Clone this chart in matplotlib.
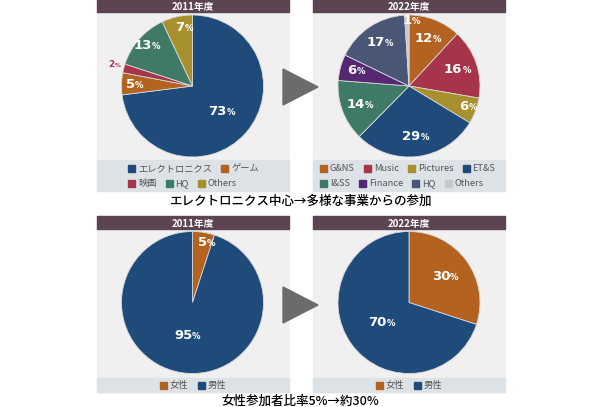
import matplotlib.pyplot as plt
from matplotlib.patches import Rectangle, Polygon
import numpy as np

plt.rcParams['font.family'] = ['Noto Sans CJK JP', 'DejaVu Sans']

# --- data ---
seg_2011_labels = ['エレクトロニクス', 'ゲーム', '映画', 'HQ', 'Others']
seg_2011_values = [73, 5, 2, 13, 7]

seg_2022_labels = ['G&NS', 'Music', 'Pictures', 'ET&S', 'I&SS', 'Finance', 'HQ', 'Others']
seg_2022_values = [12, 16, 6, 29, 14, 6, 17, 1]

gender_labels = ['女性', '男性']
gender_2011 = [5, 95]
gender_2022 = [30, 70]

caption_top = 'エレクトロニクス中心→多様な事業からの参加'
caption_bottom = '女性参加者比率5%→約30%'

# --- colours ---
NAVY = '#1f4b7a'
ORANGE = '#b3621f'
CRIMSON = '#a6344a'
GREEN = '#3e7a66'
GOLD = '#a8902e'
PURPLE = '#56286f'
SLATE = '#4a5676'
LGRAY = '#c8c8c8'

colors_2011 = [NAVY, ORANGE, CRIMSON, GREEN, GOLD]
colors_2022 = [ORANGE, CRIMSON, GOLD, NAVY, GREEN, PURPLE, SLATE, LGRAY]
colors_gender = [ORANGE, NAVY]

W, H = 600, 407
fig = plt.figure(figsize=(W / 100, H / 100), dpi=100)
renderer = fig.canvas.get_renderer()

# overlay in pixel coordinates for panels, bars, arrows, captions
bg = fig.add_axes([0, 0, 1, 1])
bg.set_xlim(0, W)
bg.set_ylim(H, 0)
bg.axis('off')


def fbox(x0, y0, w, h):
    return [x0 / W, 1 - (y0 + h) / H, w / W, h / H]


def panel(x0, y_top, y_bar_end, y_band0, y_band1, title):
    w = 192
    bg.add_patch(Rectangle((x0, y_top), w, y_band1 - y_top, color='#f0f0f0', zorder=0))
    bg.add_patch(Rectangle((x0, y_top), w, y_bar_end - y_top, color='#5d4453', zorder=1))
    bg.add_patch(Rectangle((x0, y_band0), w, y_band1 - y_band0, color='#dde2e6', zorder=1))
    bg.text(x0 + w / 2, (y_top + y_bar_end) / 2, title, color='white', fontsize=7,
            fontweight='bold', ha='center', va='center_baseline', zorder=2)


def pie(cx, cy, r, values, colors, dists, txtcols=None):
    ax = fig.add_axes(fbox(cx - r, cy - r, 2 * r, 2 * r))
    wedges, _ = ax.pie(values, colors=colors, startangle=90, counterclock=False,
                       radius=1, wedgeprops=dict(edgecolor='#d8d8d8', linewidth=0.6))
    ax.set_xlim(-1, 1)
    ax.set_ylim(-1, 1)
    ax.set_aspect('equal')
    ax.axis('off')
    for i, (w, v) in enumerate(zip(wedges, values)):
        ang = np.deg2rad((w.theta1 + w.theta2) / 2)
        d = dists[i]
        x, y = d * np.cos(ang), d * np.sin(ang)
        col = txtcols[i] if txtcols else 'white'
        big = 9.5 if d < 1 else 6.5
        ax.text(x + 0.07, y, str(v), ha='right', va='center', fontsize=big,
                fontweight='bold', color=col, family='DejaVu Sans')
        ax.text(x + 0.07, y - 0.015, '%', ha='left', va='center', fontsize=big * 0.65,
                fontweight='bold', color=col, family='DejaVu Sans')
    return ax


def legend_row(labels, colors, x, y, centered=False):
    # square marker + label, laid out left to right in pixel space
    sq, gap, sep, fs = 7, 3, 9, 6.7
    widths = []
    for lab in labels:
        t = bg.text(0, 0, lab, fontsize=fs)
        widths.append(t.get_window_extent(renderer).width)
        t.remove()
    total = sum(sq + gap + w for w in widths) + sep * (len(labels) - 1)
    if centered:
        x = x - total / 2
    for lab, c, w in zip(labels, colors, widths):
        bg.add_patch(Rectangle((x, y - sq / 2), sq, sq, color=c, zorder=3))
        bg.text(x + sq + gap, y + 3, lab, fontsize=fs, color='#555555',
                ha='left', va='baseline', zorder=3)
        x += sq + gap + w + sep


# top panels
panel(97, 0, 12, 160, 191, '2011年度')
panel(313, 0, 12, 160, 191, '2022年度')
# bottom panels
panel(97, 216, 229, 378, 392, '2011年度')
panel(313, 216, 229, 378, 392, '2022年度')

# arrows
for yc in (87, 305):
    bg.add_patch(Polygon([(283, yc - 18), (283, yc + 18), (318, yc)],
                         closed=True, color='#6b6b6b', zorder=3))

pie(192.5, 86, 71, seg_2011_values, colors_2011,
    [0.55, 0.88, 1.2, 0.86, 0.84],
    ['white', 'white', CRIMSON, 'white', 'white'])
pie(409, 86, 71, seg_2022_values, colors_2022,
    [0.72, 0.72, 0.82, 0.72, 0.74, 0.84, 0.74, 0.93])
pie(192.5, 302.5, 71, gender_2011, colors_gender, [0.86, 0.47])
pie(409, 302.5, 71, gender_2022, colors_gender, [0.63, 0.47])

legend_row(seg_2011_labels[:2], colors_2011[:2], 128, 168)
legend_row(seg_2011_labels[2:], colors_2011[2:], 128, 183)
legend_row(seg_2022_labels[:4], colors_2022[:4], 320, 168)
legend_row(seg_2022_labels[4:], colors_2022[4:], 320, 183)
legend_row(gender_labels, colors_gender, 193, 385, centered=True)
legend_row(gender_labels, colors_gender, 409, 385, centered=True)

bg.text(300, 200, caption_top, fontsize=9, fontweight='medium',
        ha='center', va='center_baseline', color='black')
bg.text(300, 400, caption_bottom, fontsize=9, fontweight='medium',
        ha='center', va='center_baseline', color='black')

fig.savefig('out.png', dpi=100)
